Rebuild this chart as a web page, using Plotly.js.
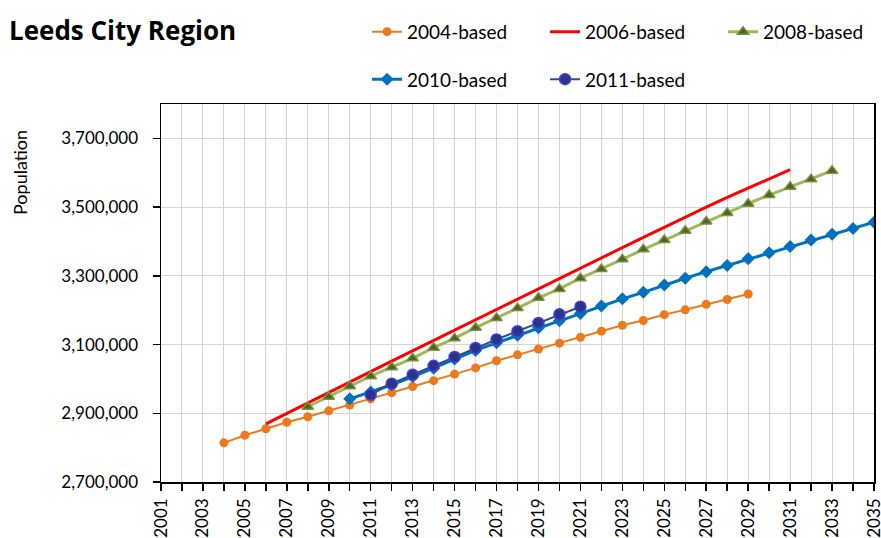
<!DOCTYPE html>
<html>
<head>
<meta charset="utf-8">
<script src="https://cdn.plot.ly/plotly-3.0.1.min.js"></script>
<style>html,body{margin:0;padding:0;background:#fff;}#chart{width:881px;height:538px;}</style>
</head>
<body>
<div id="chart"></div>
<script>
// ---- data ----
const years2004 = [2004,2005,2006,2007,2008,2009,2010,2011,2012,2013,2014,2015,2016,2017,2018,2019,2020,2021,2022,2023,2024,2025,2026,2027,2028,2029];
const pop2004 = [2814000,2836000,2855000,2874000,2890000,2907000,2924000,2942000,2960000,2978000,2995000,3014000,3032000,3053000,3070000,3087000,3104000,3121000,3139000,3156000,3170000,3187000,3201000,3217000,3231000,3247000];

const years2006 = [2006,2007,2008,2009,2010,2011,2012,2013,2014,2015,2016,2017,2018,2019,2020,2021,2022,2023,2024,2025,2026,2027,2028,2029,2030,2031];
const pop2006 = [2869000,2899000,2930000,2960000,2991000,3021000,3052000,3082000,3112000,3143000,3173000,3203000,3233000,3264000,3294000,3323000,3353000,3382000,3412000,3441000,3471000,3500000,3528000,3555000,3582000,3609000];

const years2008 = [2008,2009,2010,2011,2012,2013,2014,2015,2016,2017,2018,2019,2020,2021,2022,2023,2024,2025,2026,2027,2028,2029,2030,2031,2032,2033];
const pop2008 = [2919000,2948000,2979000,3008000,3034000,3060000,3091000,3118000,3149000,3177000,3206000,3236000,3262000,3293000,3320000,3348000,3377000,3404000,3431000,3458000,3483000,3510000,3535000,3559000,3581000,3606000];

const years2010 = [2010,2011,2012,2013,2014,2015,2016,2017,2018,2019,2020,2021,2022,2023,2024,2025,2026,2027,2028,2029,2030,2031,2032,2033,2034,2035];
const pop2010 = [2942000,2962000,2983000,3006000,3031000,3058000,3083000,3105000,3127000,3149000,3169000,3190000,3212000,3233000,3252000,3273000,3293000,3312000,3330000,3350000,3367000,3385000,3404000,3421000,3438000,3456000];

const years2011 = [2011,2012,2013,2014,2015,2016,2017,2018,2019,2020,2021];
const pop2011 = [2954000,2986000,3012000,3038000,3064000,3090000,3115000,3139000,3163000,3188000,3210000];

const seriesNames = ['2004-based','2006-based','2008-based','2010-based','2011-based'];
const chartTitle = 'Leeds City Region';
const yAxisTitle = 'Population';

// ---- chart ----
const FONT = 'Lato, "Open Sans", sans-serif';

const traces = [
  {x: years2004, y: pop2004, name: seriesNames[0], type: 'scatter', mode: 'lines+markers',
   line: {color: '#EC7A1C', width: 2}, marker: {symbol: 'circle', size: 9, color: '#EC7A1C'}, legend: 'legend'},
  {x: years2006, y: pop2006, name: seriesNames[1], type: 'scatter', mode: 'lines',
   line: {color: '#FF0000', width: 3}, legend: 'legend'},
  {x: years2008, y: pop2008, name: seriesNames[2], type: 'scatter', mode: 'lines+markers',
   line: {color: '#9BBB59', width: 3}, marker: {symbol: 'triangle-up', size: 10, color: '#4F6228', line: {color: '#77933C', width: 1.5}}, legend: 'legend'},
  {x: years2010, y: pop2010, name: seriesNames[3], type: 'scatter', mode: 'lines+markers',
   line: {color: '#0070C0', width: 3}, marker: {symbol: 'diamond', size: 10, color: '#0070C0'}, legend: 'legend2'},
  {x: years2011, y: pop2011, name: seriesNames[4], type: 'scatter', mode: 'lines+markers',
   line: {color: '#2F4A8A', width: 2}, marker: {symbol: 'circle', size: 11, color: '#2B3585', line: {color: '#4040DD', width: 1.5}}, legend: 'legend2'}
];

const legendCommon = {
  orientation: 'h', xref: 'paper', yref: 'paper', xanchor: 'left', yanchor: 'middle',
  entrywidth: 133, entrywidthmode: 'pixels', font: {family: FONT, size: 19, color: '#000'},
  bgcolor: 'rgba(0,0,0,0)', borderwidth: 0, traceorder: 'normal'
};

const layout = {
  width: 881, height: 538,
  margin: {l: 161, r: 7, t: 104, b: 56, autoexpand: false},
  paper_bgcolor: '#fff', plot_bgcolor: '#fff',
  font: {family: FONT, color: '#000'},
  title: {text: '<b>' + chartTitle + '</b>', xref: 'container', yref: 'container',
          x: 9/881, xanchor: 'left', y: 1 - 31/538, yanchor: 'middle',
          font: {family: '"Open Sans", Lato, sans-serif', size: 26, color: '#000'}},
  showlegend: true,
  legend: Object.assign({}, legendCommon, {x: 0.289, y: 1.191}),
  legend2: Object.assign({}, legendCommon, {x: 0.289, y: 1.0653}),
  xaxis: {
    range: [2001, 2035], tick0: 2001, dtick: 2, tickangle: -90,
    ticks: 'outside', ticklen: 7, tickcolor: '#000', tickwidth: 1.5,
    showgrid: true, gridcolor: '#D4D4D4', gridwidth: 1,
    minor: {dtick: 1, tick0: 2001, ticks: 'outside', ticklen: 7, tickcolor: '#000', tickwidth: 1.5, showgrid: true, gridcolor: '#D4D4D4', gridwidth: 1},
    showline: true, linecolor: '#000', linewidth: 1.5, mirror: true, zeroline: false,
    tickfont: {family: FONT, size: 17, color: '#000'}, ticklabelstandoff: 1,
    ticklabeloverflow: 'allow'
  },
  yaxis: {
    range: [2700000, 3800000], tick0: 2700000, dtick: 200000, tickformat: ',d',
    ticks: 'outside', ticklen: 7, tickcolor: '#000', tickwidth: 1.5,
    showgrid: true, gridcolor: '#D4D4D4', gridwidth: 1,
    showline: true, linecolor: '#000', linewidth: 1.5, mirror: true, zeroline: false,
    tickfont: {family: FONT, size: 17, color: '#000'}, ticklabelstandoff: 11
  },
  annotations: [{
    text: yAxisTitle, xref: 'paper', yref: 'paper', x: (20 - 161)/713, y: (482 - 173)/378,
    xanchor: 'center', yanchor: 'middle', textangle: -90, showarrow: false,
    font: {family: FONT, size: 18, color: '#000'}
  }]
};

Plotly.newPlot('chart', traces, layout, {displayModeBar: false, staticPlot: true});
</script>
</body>
</html>
